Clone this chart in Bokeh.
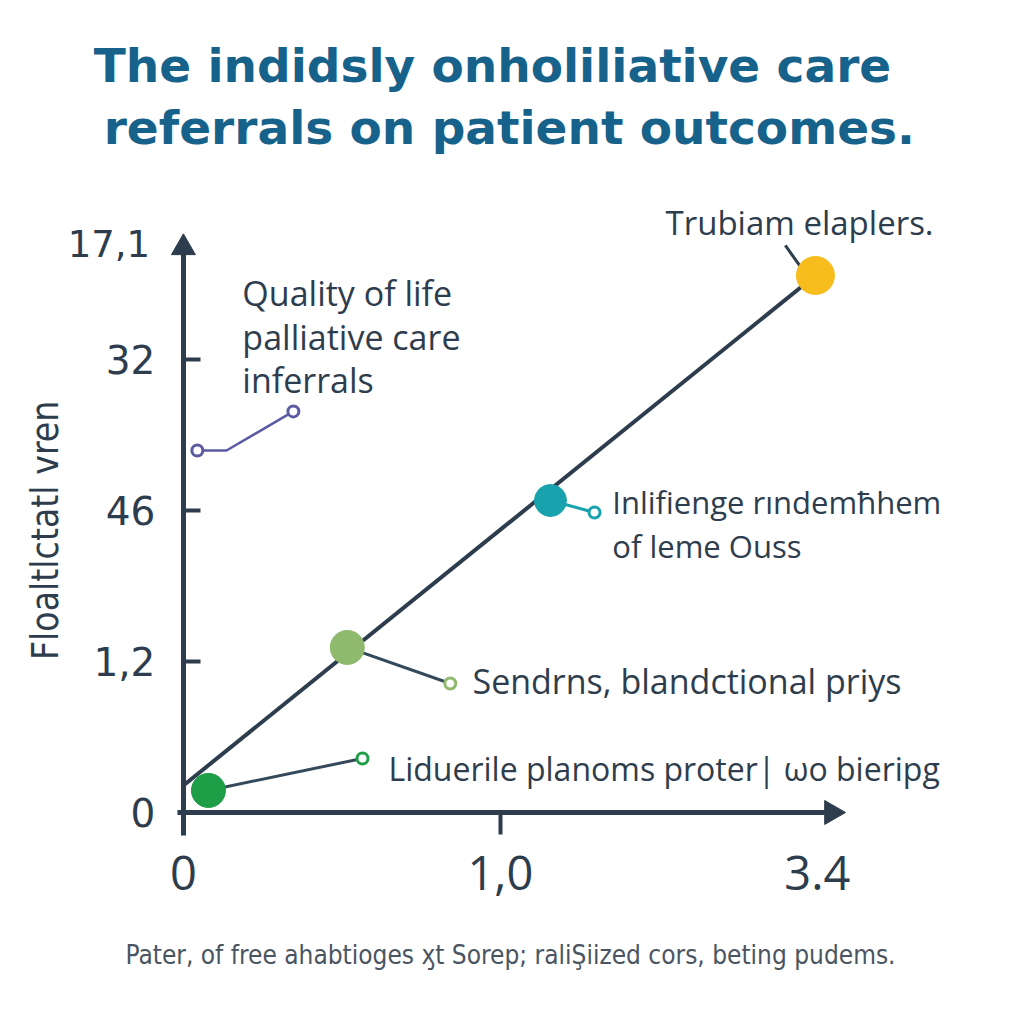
import numpy as np
from bokeh.plotting import figure
from bokeh.models import Range1d, FixedTicker, LinearAxis
from bokeh.core.properties import value
from bokeh.embed import file_html
from bokeh.resources import INLINE

# ---- data ----
title_lines = ["The indidsly onholiliative care", "referrals on patient outcomes."]
caption = "Pater, of free ahabtioges \u04fdt Sorep; rali\u015eiized cors, beting pudems."
y_axis_label = "Floaltlctatl vren"

x_ticks = [0, 1, 2]
x_tick_labels = ["0", "1,0", "3.4"]
x_tick_marks = [0, 1]
y_ticks = [0, 1, 2, 3]
y_tick_labels = ["0", "1,2", "46", "32"]
y_top_label = "17,1"
y_top_value = 3.77

trend_x = [0.0, 1.994]
trend_y = [0.179, 3.556]

point_x = [0.079, 0.517, 1.158, 1.994]
point_y = [0.146, 1.093, 2.066, 3.556]
point_colors = ["#1f9e48", "#8fb96c", "#17a2ae", "#f6bd1d"]
point_sizes = [34, 34, 32, 38]

# connectors: dot -> small ring
ring_x = [0.565, 0.842, 1.297]
ring_y = [0.358, 0.854, 1.987]
ring_colors = ["#1f9e48", "#8fb96c", "#17a2ae"]
conn_colors = ["#34495a", "#34495a", "#17a2ae"]

purple_x = [0.044, 0.136, 0.347]
purple_y = [2.397, 2.397, 2.656]

yellow_stub_x = [1.899, 1.946]
yellow_stub_y = [3.755, 3.616]

labels_text = ["Quality of life", "palliative care", "inferrals",
               "Trubiam elaplers.",
               "Inlifienge r\u0131ndem\u0127hem", "of leme Ouss",
               "Sendrns, blandctional priys",
               "Liduerile planoms proter| \u03c9o bieripg"]
labels_x = [0.186, 0.186, 0.186, 1.521, 1.353, 1.353, 0.912, 0.647]
labels_y = [3.437, 3.152, 2.861, 3.907, 2.053, 1.762, 0.868, 0.291]
labels_size = ["34px", "34px", "34px", "33px", "31px", "31px", "34px", "32px"]

DARK = "#2e3d4d"
TEAL_TITLE = "#17628a"

p = figure(width=1008, height=1008, output_backend="svg", toolbar_location=None,
           x_range=Range1d(-0.577, 2.603), y_range=Range1d(-1.298, 5.377),
           min_border=0, outline_line_color=None, background_fill_color="white")
p.grid.visible = False

# axes
xa = p.xaxis[0]
ya = p.yaxis[0]
xa.fixed_location = 0
ya.fixed_location = 0
xa.bounds = (-0.02, 2.03)
ya.bounds = (-0.15, 3.72)
xa.ticker = FixedTicker(ticks=x_ticks)
ya.ticker = FixedTicker(ticks=y_ticks)
xa.major_label_overrides = dict(zip(x_ticks, x_tick_labels))
ya.major_label_overrides = dict(zip(y_ticks, y_tick_labels))
for ax in (xa, ya):
    ax.axis_line_color = DARK
    ax.axis_line_width = 5
    ax.major_tick_line_color = DARK
    ax.major_tick_line_width = 4
    ax.minor_tick_line_color = None
    ax.major_label_text_color = DARK
xa.major_tick_line_color = None
xa.major_tick_in = 0
xa.major_tick_out = 22
xa.major_label_standoff = 22
xa.major_label_text_font = "Open Sans"
xa.major_label_text_font_size = "47px"
ya.major_tick_in = 17
ya.major_tick_out = 0
ya.major_label_standoff = 28
ya.major_label_text_font = "DejaVu Sans"
ya.major_label_text_font_size = "39px"
ya.major_label_orientation = "horizontal"

# tick marks of the x axis (only at 0 and 1,0)
xt = LinearAxis(fixed_location=0, ticker=FixedTicker(ticks=x_tick_marks),
                axis_line_color=None, major_tick_line_color=DARK, major_tick_line_width=4,
                major_tick_in=0, major_tick_out=22, minor_tick_line_color=None,
                major_label_text_alpha=0)
p.add_layout(xt, "below")

# arrow heads
p.scatter([0], [3.74], marker="triangle", size=24, color=DARK)
p.scatter([2.045], [0], marker="triangle", size=24, color=DARK, angle=-np.pi / 2)

# top y label
p.text([-0.105], [y_top_value], text=[y_top_label], text_align="right", text_baseline="middle",
       text_font=value("DejaVu Sans"), text_font_size="37px", text_color=DARK)

# trend line
p.line(trend_x, trend_y, line_color=DARK, line_width=4)

# connectors
for i in range(3):
    p.line([point_x[i], ring_x[i]], [point_y[i], ring_y[i]], line_color=conn_colors[i], line_width=3)
p.scatter(ring_x, ring_y, marker="circle", size=11, fill_color="white",
          line_color=ring_colors, line_width=3)
p.line(yellow_stub_x, yellow_stub_y, line_color=DARK, line_width=3)
p.line(purple_x, purple_y, line_color="#5b5ba3", line_width=2.5)
p.scatter([purple_x[0], purple_x[-1]], [purple_y[0], purple_y[-1]], marker="circle", size=11,
          fill_color="white", line_color="#5b5ba3", line_width=3)

# main points
p.scatter(point_x, point_y, marker="circle", size=point_sizes, color=point_colors)

# annotation texts
p.text(x=labels_x, y=labels_y, text=labels_text, text_align="left", text_baseline="middle",
       text_font=value("Open Sans"), text_font_size=labels_size, text_color=DARK)

# title
p.text([0.975, 1.028], [4.947, 4.536], text=title_lines, text_align="center", text_baseline="middle",
       text_font=value("DejaVu Sans"), text_font_style="bold", text_font_size="47px",
       text_color=TEAL_TITLE)

# y axis label
p.text([-0.435], [1.868], text=[y_axis_label], angle=np.pi / 2, text_align="center",
       text_baseline="middle", text_font=value("DejaVu Sans Condensed"), text_font_size="37px",
       text_color=DARK)

# caption
p.text([1.032], [-0.947], text=[caption], text_align="center", text_baseline="middle",
       text_font=value("DejaVu Sans Condensed"), text_font_size="26px", text_color="#4a5561")

open("out.html", "w").write(file_html(p, INLINE))
